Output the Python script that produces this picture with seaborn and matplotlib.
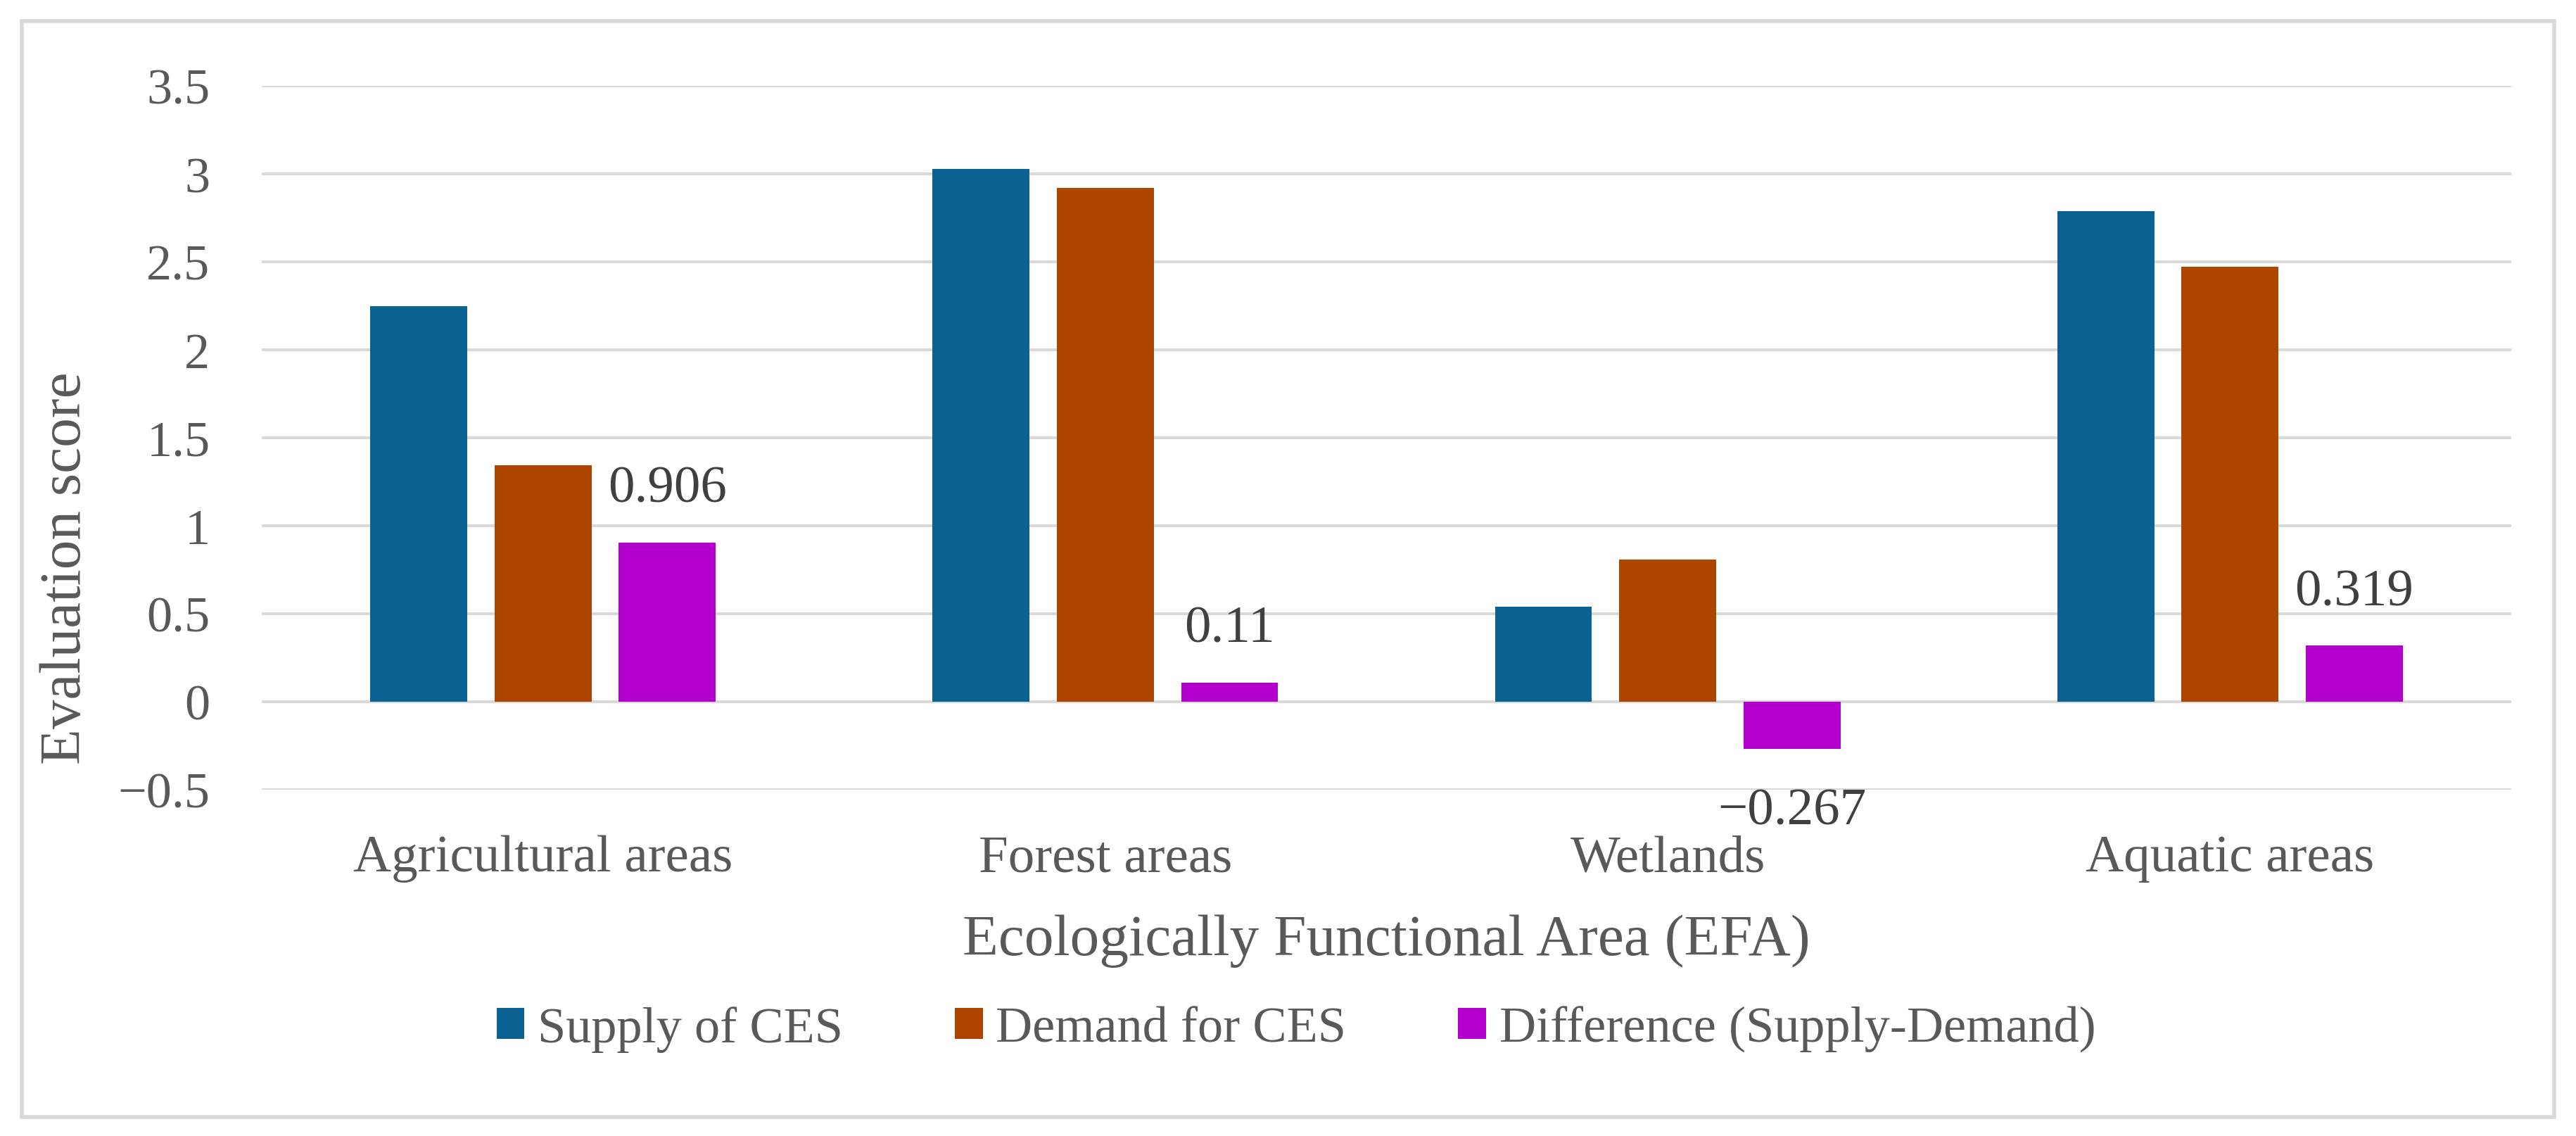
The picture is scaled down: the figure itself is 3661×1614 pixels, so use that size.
import matplotlib
matplotlib.use("Agg")
import matplotlib.pyplot as plt
import matplotlib.patches as mpatches
from matplotlib.ticker import FuncFormatter, MultipleLocator
import seaborn as sns
import pandas as pd

# ---- data ----
areas = ["Agricultural areas", "Forest areas", "Wetlands", "Aquatic areas"]
series_names = ["Supply of CES", "Demand for CES", "Difference (Supply-Demand)"]
supply = [2.25, 3.03, 0.54, 2.79]
demand = [1.344, 2.92, 0.807, 2.471]
difference = [0.906, 0.11, -0.267, 0.319]
colors = ["#0a6192", "#ad4500", "#b400cf"]

rows = []
for name, vals in zip(series_names, [supply, demand, difference]):
    for a, v in zip(areas, vals):
        rows.append({"area": a, "series": name, "value": v})
df = pd.DataFrame(rows)

sns.set_theme(style="white")
plt.rcParams["font.family"] = ["Liberation Serif", "DejaVu Serif"]
plt.rcParams["axes.unicode_minus"] = True

W, H = 3662, 1615
fig = plt.figure(figsize=(W / 100, H / 100), dpi=100)
ax = fig.add_axes([372 / W, 1 - 1123 / H, (3569 - 372) / W, (1123 - 123) / H])

sns.barplot(data=df, x="area", y="value", hue="series", order=areas,
            hue_order=series_names, palette=colors, width=0.663, gap=0.22,
            linewidth=0, edgecolor="none", saturation=1, ax=ax)

ax.set_ylim(-0.5, 3.5)
ax.yaxis.set_major_locator(MultipleLocator(0.5))
ax.yaxis.set_major_formatter(FuncFormatter(lambda v, p: f"{v:g}".replace("-", "\u2212")))
ax.grid(axis="y", color="#d9d9d9", linewidth=2.9)
ax.grid(axis="x", visible=False)
ax.set_axisbelow(True)
for s in ax.spines.values():
    s.set_visible(False)

ax.tick_params(axis="y", length=0, pad=53, labelsize=52, labelcolor="#595959")
ax.tick_params(axis="x", length=0, pad=46, labelsize=54, labelcolor="#595959")

# data labels on difference bars
diff_container = ax.containers[2]
fmt = lambda v: f"{v:g}".replace("-", "\u2212")
pos_labels = [fmt(v) if v >= 0 else "" for v in difference]
neg_labels = [fmt(v) if v < 0 else "" for v in difference]
ax.bar_label(diff_container, labels=pos_labels, padding=30, fontsize=54, color="#404040")
ax.bar_label(diff_container, labels=neg_labels, padding=40, fontsize=54, color="#404040")

ax.set_ylabel("Evaluation score", fontsize=60, color="#595959")
ax.yaxis.set_label_coords(94 / W, 0.5, transform=fig.transFigure)
ax.yaxis.label.set_va("center")
ax.set_xlabel("Ecologically Functional Area (EFA)", fontsize=60, color="#595959")
ax.xaxis.set_label_coords((372 + 3569) / 2 / W, 1 - 1337 / H, transform=fig.transFigure)
ax.xaxis.label.set_va("center")

handles, labs = ax.get_legend_handles_labels()
if ax.get_legend() is not None:
    ax.get_legend().remove()
fig.legend(handles, labs, loc="center", bbox_to_anchor=(1842 / W, 1 - 1463 / H),
           ncol=3, frameon=False, fontsize=52, labelcolor="#595959",
           handlelength=0.55, handleheight=0.55, handletextpad=0.26,
           columnspacing=2.2)

# outer chart border
border = mpatches.Rectangle((31 / W, 1 - 1588 / H), (3630 - 31) / W, (1588 - 31) / H,
                            transform=fig.transFigure, fill=False,
                            edgecolor="#d9d9d9", linewidth=4)
fig.add_artist(border)

fig.savefig("out.png", dpi=100, facecolor="white")
